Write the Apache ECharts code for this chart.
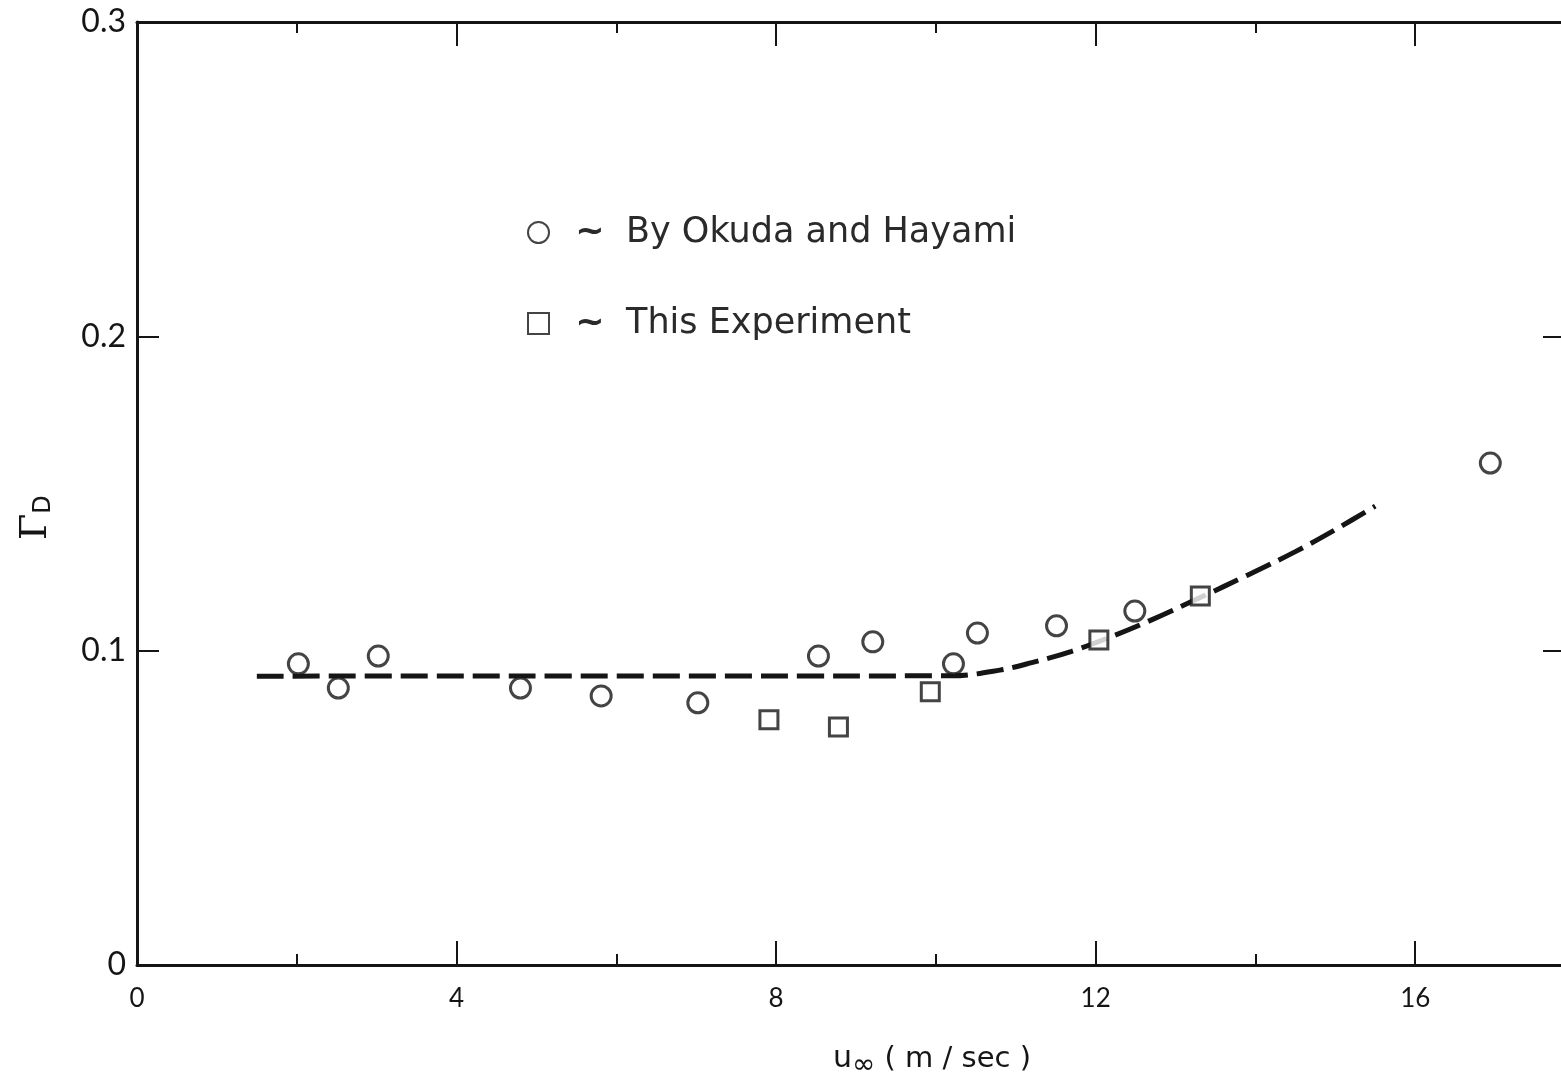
<!DOCTYPE html>
<html>
<head>
<meta charset="utf-8">
<script src="https://cdn.jsdelivr.net/npm/echarts@6/dist/echarts.min.js"></script>
<style>
  html, body { margin: 0; padding: 0; background: #fff; }
  #chart { width: 1561px; height: 1084px; }
</style>
</head>
<body>
<div id="chart"></div>
<script>
const okudaHayami = [
  [2.02, 0.0958], [2.52, 0.0881], [3.02, 0.0983], [4.80, 0.0881],
  [5.81, 0.0856], [7.02, 0.0834], [8.53, 0.0983], [9.21, 0.1028],
  [10.22, 0.0958], [10.52, 0.1056], [11.51, 0.1079], [12.49, 0.1126],
  [16.94, 0.1597]
]
const thisExperiment = [
  [7.91, 0.0780], [8.78, 0.0757], [9.93, 0.0869], [12.04, 0.1034], [13.31, 0.1174]
]
// dashed curve drawn through the data
const fitCurve = [
  [1.5, 0.0919], [10.2, 0.0920], [10.8, 0.0938], [11.2, 0.0962], [11.7, 0.0998],
  [12.2, 0.1045], [12.7, 0.1098], [13.3, 0.1168], [13.9, 0.1240], [14.5, 0.1315],
  [15.0, 0.1385], [15.5, 0.1460]
]
const seriesNames = ['By Okuda and Hayami', 'This Experiment']

const FONT = 'Lato'
const TEXT_FONT = 'DejaVu Sans'
const INK = '#151515'

const chart = echarts.init(document.getElementById('chart'))

const xBase = {
  type: 'value',
  min: 0,
  max: 18,
  interval: 4,
  axisLine: { show: true, onZero: false, lineStyle: { color: INK, width: 3 } },
  axisTick: { show: true, inside: true, length: 24, lineStyle: { color: INK, width: 2 } },
  minorTick: { show: true, splitNumber: 2, length: 11, lineStyle: { color: INK, width: 2 } },
  splitLine: { show: false }
}
const yBase = {
  type: 'value',
  min: 0,
  max: 0.3,
  interval: 0.1,
  axisLine: { show: true, onZero: false, lineStyle: { color: INK, width: 3 } },
  axisTick: { show: true, inside: true, length: 22, lineStyle: { color: INK, width: 2 } },
  splitLine: { show: false }
}

const options = {
  backgroundColor: '#fff',
  animation: false,
  grid: { left: 137, top: 22, width: 1438, height: 943, outerBoundsMode: 'none', containLabel: false },
  xAxis: [
    Object.assign({}, xBase, {
      position: 'bottom',
      axisLabel: {
        margin: 21, color: INK, fontFamily: FONT, fontSize: 26,
        formatter: v => (v % 4 === 0 && v <= 16 ? String(v) : '')
      }
    }),
    Object.assign({}, xBase, { position: 'top', axisLabel: { show: false } })
  ],
  yAxis: [
    Object.assign({}, yBase, {
      position: 'left',
      axisLabel: { margin: 11, color: INK, fontFamily: FONT, fontSize: 32, formatter: v => (v === 0 ? '0' : v.toFixed(1)) }
    }),
    Object.assign({}, yBase, { position: 'right', axisTick: Object.assign({}, yBase.axisTick, { length: 32 }), axisLabel: { show: false } })
  ],
  legend: {
    orient: 'vertical',
    left: 522,
    top: 210,
    itemWidth: 21,
    itemHeight: 21,
    itemGap: 56,
    data: seriesNames,
    formatter: name => '{t|~}{n|' + name + '}',
    textStyle: {
      color: '#2a2a2a',
      fontFamily: TEXT_FONT,
      rich: {
        t: { width: 72, align: 'center', fontSize: 35, lineHeight: 38, fontWeight: 'bold', fontFamily: TEXT_FONT, color: '#2a2a2a' },
        n: { fontSize: 35, lineHeight: 38, fontFamily: TEXT_FONT, color: '#2a2a2a' }
      }
    }
  },
  graphic: [
    {
      type: 'text',
      left: 833,
      top: 1044,
      style: {
        text: '{u|u}{s|∞}{p| ( m / sec )}',
        fill: INK,
        rich: {
          u: { fontSize: 30, fontFamily: TEXT_FONT, fill: INK },
          s: { fontSize: 28, fontFamily: TEXT_FONT, fill: INK, padding: [14, 0, 0, 0] },
          p: { fontSize: 29, fontFamily: TEXT_FONT, fill: INK }
        }
      }
    },
    {
      type: 'text',
      x: 16,
      y: 540,
      rotation: Math.PI / 2,
      style: {
        text: '{g|Γ}{d|D}',
        fill: INK,
        rich: {
          g: { fontSize: 38, fontFamily: 'DejaVu Serif', fill: INK },
          d: { fontSize: 24, fontFamily: TEXT_FONT, fill: INK, padding: [16, 0, 0, 0] }
        }
      }
    }
  ],
  series: [
    {
      name: 'fit',
      type: 'line',
      data: fitCurve,
      symbol: 'none',
      smooth: 0.35,
      z: 1,
      lineStyle: { color: INK, width: 5, type: [27, 9] }
    },
    {
      name: seriesNames[0],
      type: 'scatter',
      data: okudaHayami,
      symbol: 'circle',
      symbolSize: 20,
      z: 3,
      itemStyle: { color: '#fff', borderColor: INK, borderWidth: 3 }
    },
    {
      name: seriesNames[1],
      type: 'scatter',
      data: thisExperiment,
      symbol: 'rect',
      symbolSize: 18,
      z: 3,
      itemStyle: { color: '#fff', borderColor: INK, borderWidth: 3 }
    }
  ]
}

chart.setOption(options)
</script>
</body>
</html>
